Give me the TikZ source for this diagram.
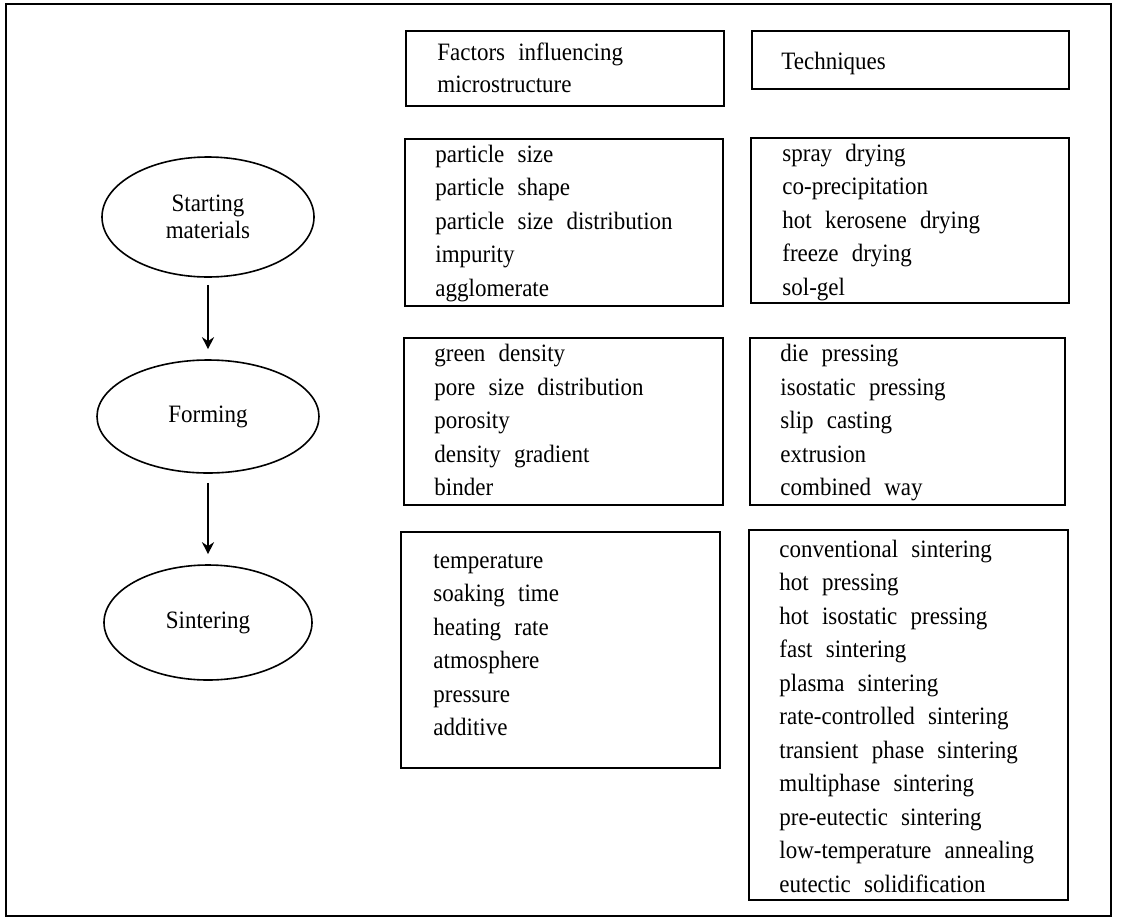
\documentclass[tikz,border=0pt]{standalone}
\usepackage{fontspec}
\setmainfont{Liberation Serif}[FakeStretch=0.92, WordSpace=2.3]
\usetikzlibrary{fit,shapes.geometric,arrows.meta}
\begin{document}
\begin{tikzpicture}[x=0.5pt,y=-0.5pt,
  txt/.style={font=\fontsize{12.5pt}{16.75pt}\selectfont},
  frame/.style={draw, line width=1.3pt, inner sep=0pt},
  panel/.style={draw, line width=1.1pt, inner sep=0pt},
  lbl/.style={txt, anchor=base west, inner sep=0pt},
  stage/.style={draw, ellipse, line width=0.8pt, inner sep=0pt, txt, align=center,
                font=\fontsize{12.5pt}{13.5pt}\selectfont},
  flow/.style={-{Stealth[length=6pt,width=6pt]}, line width=0.8pt}]
\useasboundingbox (0,0) rectangle (1122,921);
\fill[white] (0,0) rectangle (1122,921);

% outer frame
\node[frame, fit={(6,4) (1111,916)}] (frame) {};

% header boxes
\node[panel, fit={(406,31) (724,106)}] (hf) {};
\node[lbl] (hf1) at (437,60) {Factors influencing};
\node[lbl] (hf2) at (437,92) {microstructure};
\node[panel, fit={(752,31) (1069,89)}] (ht) {};
\node[lbl] (ht1) at (781,69) {Techniques};

% row 1
\node[panel, fit={(405,139) (723,306)}] (f1) {};
\foreach \t [count=\i from 0] in {particle size, particle shape, particle size distribution, impurity, agglomerate}
  \node[lbl] (f1-\i) at (435,{162+33.5*\i}) {\t};
\node[panel, fit={(751,138) (1069,303)}] (t1) {};
\foreach \t [count=\i from 0] in {spray drying, co-precipitation, hot kerosene drying, freeze drying, sol-gel}
  \node[lbl] (t1-\i) at (782,{161+33.5*\i}) {\t};

% row 2
\node[panel, fit={(404,338) (723,505)}] (f2) {};
\foreach \t [count=\i from 0] in {green density, pore size distribution, porosity, density gradient, binder}
  \node[lbl] (f2-\i) at (434,{361.5+33.5*\i}) {\t};
\node[panel, fit={(750,338) (1065,505)}] (t2) {};
\foreach \t [count=\i from 0] in {die pressing, isostatic pressing, slip casting, extrusion, combined way}
  \node[lbl] (t2-\i) at (780,{361.5+33.5*\i}) {\t};

% row 3
\node[panel, fit={(401,532) (720,768)}] (f3) {};
\foreach \t [count=\i from 0] in {temperature, soaking time, heating rate, atmosphere, pressure, additive}
  \node[lbl] (f3-\i) at (433,{568+33.5*\i}) {\t};
\node[panel, fit={(749,530) (1068,900)}] (t3) {};
\foreach \t [count=\i from 0] in {conventional sintering, hot pressing, hot isostatic pressing, fast sintering, plasma sintering, rate-controlled sintering, transient phase sintering, multiphase sintering, pre-eutectic sintering, low-temperature annealing, eutectic solidification}
  \node[lbl] (t3-\i) at (779,{557+33.5*\i}) {\t};

% process stages
\node[stage, minimum width=106pt, minimum height=60pt] (start) at (208,217) {Starting\\materials};
\node[stage, minimum width=111pt, minimum height=56.5pt] (form) at (208,416.5) {Forming};
\node[stage, minimum width=104pt, minimum height=57.5pt] (sint) at (208,622.5) {Sintering};

\draw[flow, shorten <=3.5pt, shorten >=5pt] (start) -- (form);
\draw[flow, shorten <=4.5pt, shorten >=5pt] (form) -- (sint);
\end{tikzpicture}
\end{document}
